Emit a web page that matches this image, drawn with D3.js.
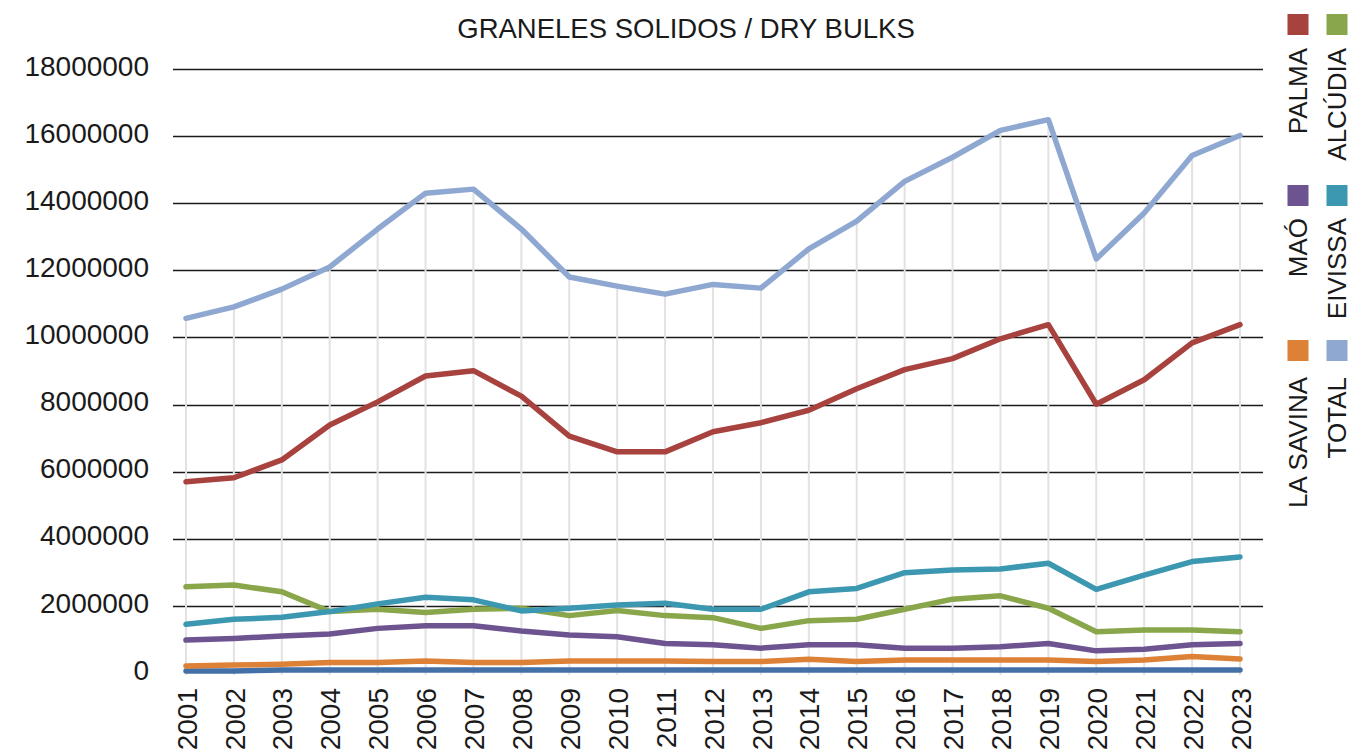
<!DOCTYPE html>
<html>
<head>
<meta charset="utf-8">
<script src="https://cdn.jsdelivr.net/npm/d3@7/dist/d3.min.js"></script>
<style>
  html, body { margin: 0; padding: 0; background: #ffffff; }
  svg { display: block; font-family: "Liberation Sans", Arial, sans-serif; }
</style>
</head>
<body>
<svg id="chart" width="1352" height="751"></svg>
<script>
const title = "GRANELES SOLIDOS / DRY BULKS";
const years = ["2001","2002","2003","2004","2005","2006","2007","2008","2009","2010","2011","2012",
               "2013","2014","2015","2016","2017","2018","2019","2020","2021","2022","2023"];
const yTicks = [0, 2000000, 4000000, 6000000, 8000000, 10000000, 12000000, 14000000, 16000000, 18000000];

const palma    = [5700000, 5820000, 6350000, 7390000, 8080000, 8850000, 9010000, 8250000, 7060000, 6590000, 6590000, 7190000,
                  7460000, 7830000, 8470000, 9040000, 9370000, 9960000, 10380000, 8010000, 8740000, 9840000, 10380000];
const alcudia  = [2570000, 2620000, 2420000, 1830000, 1900000, 1800000, 1900000, 1930000, 1710000, 1860000, 1710000, 1650000,
                  1330000, 1560000, 1600000, 1900000, 2200000, 2300000, 1930000, 1230000, 1280000, 1280000, 1230000];
const mao      = [980000, 1030000, 1100000, 1160000, 1330000, 1410000, 1410000, 1250000, 1130000, 1080000, 880000, 840000,
                  740000, 840000, 840000, 740000, 740000, 780000, 880000, 660000, 710000, 840000, 880000];
const eivissa  = [1450000, 1600000, 1660000, 1830000, 2060000, 2260000, 2180000, 1850000, 1930000, 2030000, 2080000, 1900000,
                  1900000, 2420000, 2520000, 2990000, 3070000, 3100000, 3270000, 2490000, 2920000, 3320000, 3460000];
const laSavina = [210000, 240000, 260000, 310000, 310000, 360000, 310000, 310000, 360000, 360000, 360000, 340000,
                  340000, 410000, 340000, 390000, 390000, 390000, 390000, 340000, 390000, 490000, 420000];
const total    = [10570000, 10910000, 11440000, 12100000, 13230000, 14300000, 14420000, 13230000, 11800000, 11530000, 11290000, 11580000,
                  11470000, 12640000, 13470000, 14650000, 15370000, 16170000, 16490000, 12340000, 13710000, 15420000, 16020000];
const otros    = [60000, 60000, 90000, 90000, 90000, 90000, 90000, 90000, 90000, 90000, 90000, 90000,
                  90000, 90000, 90000, 90000, 90000, 90000, 90000, 90000, 90000, 90000, 90000];

const seriesNames  = ["PALMA", "ALCÚDIA", "MAÓ", "EIVISSA", "LA SAVINA", "TOTAL", "OTROS"];
const seriesValues = [palma, alcudia, mao, eivissa, laSavina, total, otros];
const seriesColors = ["#a8423e", "#89a64b", "#6d5491", "#3c97b1", "#dd8137", "#8fa8d1", "#4470a8"];
const legendNames  = ["PALMA", "ALCÚDIA", "MAÓ", "EIVISSA", "LA SAVINA", "TOTAL"];

const svg = d3.select("#chart");
const plotLeft = 173, plotRight = 1263, plotTop = 69, plotBottom = 673;

const x = d3.scalePoint().domain(years).range([186, 1240]);
const y = d3.scaleLinear().domain([0, 18000000]).range([plotBottom, plotTop]);

// title
svg.append("text")
  .attr("x", 686).attr("y", 37.5)
  .attr("text-anchor", "middle")
  .attr("font-size", 27.5)
  .attr("fill", "#1a1a1a")
  .text(title);

// horizontal gridlines
svg.append("g").selectAll("line").data(yTicks.filter(d => d > 0)).join("line")
  .attr("x1", plotLeft).attr("x2", plotRight)
  .attr("y1", d => Math.round(y(d)) + 0.5).attr("y2", d => Math.round(y(d)) + 0.5)
  .attr("stroke", "#1a1a1a").attr("stroke-width", 1.4);

// y axis labels
const yAxis = d3.axisLeft(y).tickValues(yTicks).tickSize(0).tickPadding(0).tickFormat(d3.format("d"));
const gy = svg.append("g").attr("transform", "translate(149,0)").call(yAxis);
gy.select(".domain").remove();
gy.selectAll("text")
  .attr("font-size", 28)
  .attr("fill", "#1a1a1a")
  .attr("font-family", "Liberation Sans, Arial, sans-serif")
  .attr("dy", "0.22em");

// drop lines (from highest series to axis)
svg.append("g").selectAll("line").data(years).join("line")
  .attr("x1", d => x(d)).attr("x2", d => x(d))
  .attr("y1", (d, i) => y(total[i]))
  .attr("y2", plotBottom + 2)
  .attr("stroke", "#e2e2e2").attr("stroke-width", 2);

// x axis labels
const xAxis = d3.axisBottom(x).tickSize(0).tickPadding(0);
const gx = svg.append("g").attr("transform", "translate(0,688)").call(xAxis);
gx.select(".domain").remove();
gx.selectAll("text")
  .attr("font-size", 28)
  .attr("fill", "#1a1a1a")
  .attr("font-family", "Liberation Sans, Arial, sans-serif")
  .attr("text-anchor", "end")
  .attr("transform", "rotate(-90)")
  .attr("x", 0).attr("y", 0)
  .attr("dy", "0.36em");

// lines
const line = d3.line().x((d, i) => x(years[i])).y(d => y(d));
const drawOrder = [6, 0, 1, 3, 2, 4, 5];
svg.append("g").selectAll("path").data(drawOrder).join("path")
  .attr("d", k => line(seriesValues[k]))
  .attr("fill", "none")
  .attr("stroke", k => seriesColors[k])
  .attr("stroke-width", 5.5)
  .attr("stroke-linecap", "round")
  .attr("stroke-linejoin", "round");

// legend (rotated)
const legendCols = [1298, 1337];
const legendRows = [{sq: 14, txt: 48}, {sq: 185, txt: 218}, {sq: 340, txt: 377}];
const lg = svg.append("g");
legendNames.forEach((name, i) => {
  const col = i % 2, row = Math.floor(i / 2);
  const cx = legendCols[col];
  const k = seriesNames.indexOf(name);
  lg.append("rect")
    .attr("x", cx - 10.5).attr("y", legendRows[row].sq)
    .attr("width", 21).attr("height", 21)
    .attr("fill", seriesColors[k]);
  lg.append("text")
    .attr("transform", `translate(${cx},${legendRows[row].txt}) rotate(-90)`)
    .attr("text-anchor", "end")
    .attr("dy", "0.36em")
    .attr("font-size", 26)
    .attr("fill", "#1a1a1a")
    .text(name);
});
</script>
</body>
</html>
